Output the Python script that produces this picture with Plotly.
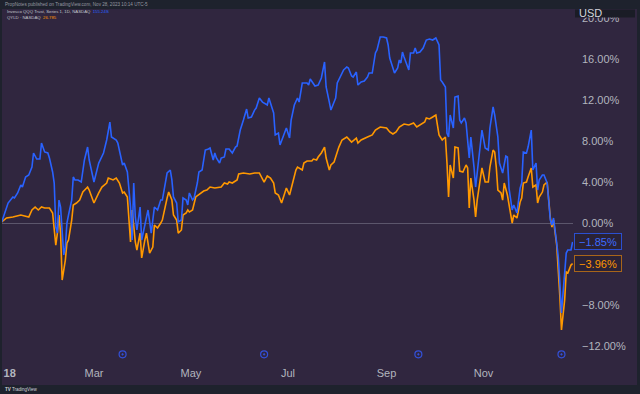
import plotly.graph_objects as go

# ---------------- data ----------------
qqq_dates = [
    "2018-01-02", "2018-01-04", "2018-01-06", "2018-01-09", "2018-01-10", "2018-01-12", "2018-01-14",
    "2018-01-15", "2018-01-17", "2018-01-19", "2018-01-21", "2018-01-22", "2018-01-24", "2018-01-26",
    "2018-01-27", "2018-01-29", "2018-01-31", "2018-02-01", "2018-02-03", "2018-02-04", "2018-02-05",
    "2018-02-06", "2018-02-07", "2018-02-08", "2018-02-09", "2018-02-10", "2018-02-11", "2018-02-12",
    "2018-02-13", "2018-02-15", "2018-02-16", "2018-02-17", "2018-02-19", "2018-02-21", "2018-02-23",
    "2018-02-25", "2018-02-26", "2018-03-01", "2018-03-04", "2018-03-07", "2018-03-09", "2018-03-11",
    "2018-03-12", "2018-03-15", "2018-03-16", "2018-03-19", "2018-03-20", "2018-03-22", "2018-03-24",
    "2018-03-25", "2018-03-26", "2018-03-27", "2018-03-28", "2018-03-30", "2018-03-31", "2018-04-02",
    "2018-04-04", "2018-04-06", "2018-04-08", "2018-04-10", "2018-04-12", "2018-04-13", "2018-04-16",
    "2018-04-18", "2018-04-19", "2018-04-20", "2018-04-22", "2018-04-23", "2018-04-25", "2018-04-26",
    "2018-04-28", "2018-04-29", "2018-04-30", "2018-05-02", "2018-05-03", "2018-05-05", "2018-05-06",
    "2018-05-08", "2018-05-10", "2018-05-12", "2018-05-13", "2018-05-15", "2018-05-16", "2018-05-17",
    "2018-05-19", "2018-05-20", "2018-05-22", "2018-05-23", "2018-05-25", "2018-05-27", "2018-05-29",
    "2018-05-30", "2018-06-01", "2018-06-03", "2018-06-05", "2018-06-06", "2018-06-08", "2018-06-10",
    "2018-06-11", "2018-06-13", "2018-06-15", "2018-06-18", "2018-06-19", "2018-06-21", "2018-06-22",
    "2018-06-23", "2018-06-25", "2018-06-26", "2018-06-28", "2018-06-30", "2018-07-02", "2018-07-03",
    "2018-07-05", "2018-07-07", "2018-07-08", "2018-07-10", "2018-07-13", "2018-07-14", "2018-07-15",
    "2018-07-17", "2018-07-18", "2018-07-20", "2018-07-22", "2018-07-24", "2018-07-25", "2018-07-27",
    "2018-07-28", "2018-07-30", "2018-07-31", "2018-08-01", "2018-08-03", "2018-08-05", "2018-08-07",
    "2018-08-08", "2018-08-10", "2018-08-11", "2018-08-13", "2018-08-14", "2018-08-16", "2018-08-18",
    "2018-08-20", "2018-08-21", "2018-08-23", "2018-08-25", "2018-08-26", "2018-08-28", "2018-08-30",
    "2018-09-01", "2018-09-02", "2018-09-03", "2018-09-05", "2018-09-06", "2018-09-08", "2018-09-09",
    "2018-09-10", "2018-09-11", "2018-09-12", "2018-09-14", "2018-09-15", "2018-09-16", "2018-09-18",
    "2018-09-19", "2018-09-20", "2018-09-22", "2018-09-24", "2018-09-26", "2018-09-28", "2018-09-30",
    "2018-10-02", "2018-10-04", "2018-10-05", "2018-10-06", "2018-10-08", "2018-10-09", "2018-10-10",
    "2018-10-11", "2018-10-13", "2018-10-14", "2018-10-16", "2018-10-17", "2018-10-18", "2018-10-20",
    "2018-10-21", "2018-10-23", "2018-10-24", "2018-10-26", "2018-10-27", "2018-10-28", "2018-10-30",
    "2018-10-31", "2018-11-02", "2018-11-04", "2018-11-05", "2018-11-07", "2018-11-08", "2018-11-10",
    "2018-11-11", "2018-11-12", "2018-11-13", "2018-11-15", "2018-11-16", "2018-11-17", "2018-11-19",
    "2018-11-20", "2018-11-22", "2018-11-24", "2018-11-25", "2018-11-26", "2018-11-28", "2018-11-29",
    "2018-12-01", "2018-12-02", "2018-12-04", "2018-12-05", "2018-12-06", "2018-12-08", "2018-12-09",
    "2018-12-11", "2018-12-13", "2018-12-14", "2018-12-15", "2018-12-17", "2018-12-18", "2018-12-19",
    "2018-12-20", "2018-12-21", "2018-12-23", "2018-12-24", "2018-12-26", "2018-12-27",
]
qqq_pct = [
    0.10, 0.98, 1.95, 2.54, 2.44, 2.93, 3.71,
    3.51, 4.49, 4.68, 5.46, 6.83, 6.24, 6.24,
    7.80, 6.93, 6.83, 6.34, 4.98, 3.90, -0.39,
    -0.98, 2.24, 1.56, -0.88, -3.12, -2.34, 0.00,
    0.78, 2.24, 4.49, 4.20, 4.20, 4.00, 6.15,
    7.41, 6.15, 4.00, 5.85, 6.83, 8.10, 9.85,
    8.39, 8.10, 7.80, 5.66, 5.85, 4.98, 1.56,
    -1.66, 3.90, 0.59, -0.68, 1.56, -1.66, 0.00,
    1.27, -0.98, 1.56, 1.27, 2.24, 2.24, 4.88,
    5.17, 4.20, 2.54, 1.95, 0.10, 0.29, 2.44,
    2.24, 1.76, 2.93, 2.24, 2.44, 3.90, 4.98,
    5.17, 7.12, 7.22, 7.32, 6.15, 6.83, 6.34,
    5.85, 6.34, 6.44, 7.22, 7.22, 6.83, 7.41,
    7.51, 9.07, 10.05, 11.12, 10.24, 10.34, 11.02,
    11.22, 12.20, 11.80, 11.51, 12.20, 11.22, 10.73,
    8.59, 8.78, 7.61, 8.39, 9.27, 8.29, 10.05,
    11.51, 12.20, 11.80, 13.66, 13.66, 13.46, 14.05,
    13.66, 13.37, 13.46, 14.15, 15.71, 13.27, 11.80,
    11.02, 11.80, 12.20, 13.66, 14.24, 14.93, 15.22,
    15.12, 14.34, 14.24, 14.73, 13.46, 13.76, 13.85,
    14.24, 14.63, 14.63, 16.59, 16.88, 18.15, 18.15,
    18.05, 17.37, 16.10, 15.12, 14.63, 15.12, 15.90,
    15.61, 16.68, 16.20, 15.41, 14.93, 16.59, 16.59,
    17.07, 16.59, 16.68, 17.07, 17.85, 17.95, 17.85,
    18.05, 17.37, 13.95, 13.76, 13.27, 8.78, 8.39,
    10.54, 9.27, 12.29, 12.39, 10.05, 9.76, 10.24,
    9.76, 6.34, 8.39, 5.46, 3.51, 4.88, 7.41,
    9.07, 7.32, 7.12, 9.27, 11.32, 10.54, 8.39,
    5.85, 5.46, 4.88, 6.54, 6.44, 3.41, 1.27,
    1.76, 0.98, 3.41, 3.90, 6.93, 6.83, 7.41,
    9.07, 5.17, 5.85, 3.22, 4.20, 4.68, 4.68,
    3.90, 0.29, -0.20, 0.49, -1.95, -3.32, -5.85,
    -8.78, -6.83, -2.93, -2.63, -2.63, -1.85,
]

qyld_dates = [
    "2018-01-02", "2018-01-05", "2018-01-09", "2018-01-14", "2018-01-19", "2018-01-21", "2018-01-23",
    "2018-01-25", "2018-01-27", "2018-01-29", "2018-02-01", "2018-02-03", "2018-02-05", "2018-02-06",
    "2018-02-07", "2018-02-08", "2018-02-09", "2018-02-11", "2018-02-12", "2018-02-13", "2018-02-15",
    "2018-02-16", "2018-02-18", "2018-02-20", "2018-02-22", "2018-02-25", "2018-02-26", "2018-03-01",
    "2018-03-04", "2018-03-06", "2018-03-09", "2018-03-10", "2018-03-13", "2018-03-15", "2018-03-17",
    "2018-03-19", "2018-03-20", "2018-03-22", "2018-03-24", "2018-03-25", "2018-03-27", "2018-03-28",
    "2018-03-30", "2018-03-31", "2018-04-02", "2018-04-03", "2018-04-05", "2018-04-07", "2018-04-08",
    "2018-04-10", "2018-04-12", "2018-04-13", "2018-04-16", "2018-04-17", "2018-04-19", "2018-04-20",
    "2018-04-22", "2018-04-23", "2018-04-25", "2018-04-26", "2018-04-28", "2018-04-29", "2018-04-30",
    "2018-05-02", "2018-05-04", "2018-05-07", "2018-05-09", "2018-05-11", "2018-05-13", "2018-05-16",
    "2018-05-20", "2018-05-22", "2018-05-24", "2018-05-25", "2018-05-27", "2018-05-30", "2018-05-31",
    "2018-06-03", "2018-06-07", "2018-06-10", "2018-06-13", "2018-06-16", "2018-06-18", "2018-06-20",
    "2018-06-22", "2018-06-23", "2018-06-25", "2018-06-27", "2018-06-28", "2018-06-30", "2018-07-02",
    "2018-07-04", "2018-07-06", "2018-07-07", "2018-07-10", "2018-07-11", "2018-07-13", "2018-07-16",
    "2018-07-17", "2018-07-19", "2018-07-20", "2018-07-22", "2018-07-24", "2018-07-25", "2018-07-27",
    "2018-07-28", "2018-07-30", "2018-08-01", "2018-08-02", "2018-08-04", "2018-08-07", "2018-08-10",
    "2018-08-13", "2018-08-14", "2018-08-16", "2018-08-20", "2018-08-23", "2018-08-25", "2018-08-28",
    "2018-09-01", "2018-09-03", "2018-09-05", "2018-09-07", "2018-09-09", "2018-09-12", "2018-09-15",
    "2018-09-18", "2018-09-20", "2018-09-22", "2018-09-25", "2018-09-26", "2018-09-28", "2018-09-30",
    "2018-10-02", "2018-10-03", "2018-10-04", "2018-10-06", "2018-10-08", "2018-10-09", "2018-10-10",
    "2018-10-11", "2018-10-13", "2018-10-14", "2018-10-16", "2018-10-17", "2018-10-19", "2018-10-21",
    "2018-10-22", "2018-10-23", "2018-10-24", "2018-10-26", "2018-10-27", "2018-10-28", "2018-10-30",
    "2018-10-31", "2018-11-02", "2018-11-04", "2018-11-05", "2018-11-07", "2018-11-08", "2018-11-09",
    "2018-11-10", "2018-11-12", "2018-11-13", "2018-11-14", "2018-11-16", "2018-11-18", "2018-11-19",
    "2018-11-20", "2018-11-22", "2018-11-24", "2018-11-25", "2018-11-26", "2018-11-28", "2018-11-29",
    "2018-12-01", "2018-12-02", "2018-12-04", "2018-12-05", "2018-12-06", "2018-12-08", "2018-12-09",
    "2018-12-11", "2018-12-13", "2018-12-14", "2018-12-15", "2018-12-17", "2018-12-18", "2018-12-19",
    "2018-12-20", "2018-12-22", "2018-12-23", "2018-12-24", "2018-12-26", "2018-12-27",
]
qyld_pct = [
    0.10, 0.49, 0.59, 0.78, 0.59, 1.27, 1.56,
    1.27, 1.56, 1.46, 1.46, 0.98, -2.15, -0.98,
    0.78, -0.98, -5.56, -3.61, -1.95, -1.66, 0.29,
    1.76, 1.95, 2.24, 3.02, 3.51, 3.22, 1.95,
    2.93, 3.51, 3.90, 4.39, 4.20, 4.39, 3.90,
    2.93, 3.02, 2.54, -1.85, 1.27, -1.85, -2.63,
    -0.98, -3.41, -1.66, -0.98, -2.93, -2.34, -0.20,
    -0.49, 0.00, 0.29, 2.44, 3.02, 2.24, 0.78,
    0.29, -0.98, -0.68, 0.78, 0.98, 1.27, 1.07,
    1.27, 2.54, 2.93, 3.12, 3.22, 3.51, 3.41,
    3.51, 3.90, 3.80, 4.00, 3.90, 4.20, 4.78,
    4.88, 4.78, 4.88, 4.88, 4.00, 4.59, 4.39,
    3.90, 2.93, 2.73, 1.95, 2.44, 3.41, 2.73,
    3.90, 5.17, 5.46, 5.17, 5.85, 6.05, 6.05,
    6.24, 6.15, 6.44, 6.83, 7.41, 6.34, 5.17,
    5.66, 5.95, 6.93, 7.41, 8.10, 8.39, 7.90,
    8.29, 7.80, 8.10, 8.39, 8.59, 9.07, 9.37,
    9.27, 8.88, 8.68, 8.88, 9.37, 9.66, 9.56,
    9.76, 9.37, 9.56, 9.85, 10.24, 10.15, 10.34,
    10.54, 9.56, 8.59, 8.10, 8.39, 5.85, 2.54,
    5.66, 4.39, 7.41, 7.32, 5.07, 4.98, 5.66,
    5.37, 1.46, 4.39, 2.24, 0.59, 2.24, 4.20,
    5.37, 4.00, 4.00, 5.46, 7.12, 6.93, 5.46,
    3.22, 2.93, 2.24, 3.90, 2.73, 0.98, 0.00,
    0.78, 0.49, 2.05, 2.44, 3.90, 4.00, 4.49,
    5.37, 3.51, 3.71, 1.95, 2.54, 3.02, 3.71,
    4.00, 0.49, -0.39, 0.29, -2.15, -4.29, -7.22,
    -10.44, -7.51, -4.78, -4.88, -4.10, -3.96,
]

dividend_dates = ["2018-03-19", "2018-06-16", "2018-09-21", "2018-12-20"]

# the -4.00% label is hidden behind the last-value boxes in the reference
y_tick_vals = [-12, -8, 0, 4, 8, 12, 16, 20]
y_tick_text = ["\u221212.00%", "\u22128.00%", "0.00%", "4.00%",
               "8.00%", "12.00%", "16.00%", "20.00%"]
x_tick_vals = ["2018-01-07", "2018-03-01", "2018-05-01", "2018-07-01", "2018-09-01", "2018-11-01"]
x_tick_text = ["<b>18</b>", "Mar", "May", "Jul", "Sep", "Nov"]

qqq_last_label = "\u22121.85%"
qyld_last_label = "\u22123.96%"

# ---------------- styling ----------------
W, H = 640, 394
ML, MR, MT, MB = 2, 67, 10, 29
PW, PH = W - ML - MR, H - MT - MB

BLUE = "#2962ff"
ORANGE = "#ff9800"
PLOT_BG = "#30263f"
FRAME_BG = "#1e222d"
TEXT = "#b2b5be"
FONT = "Liberation Sans, Arial, sans-serif"

x_range = ["2018-01-02 04:00", "2018-12-27 06:00"]
y_range = [-13.85, 20.78]


def px_x(p):
    return (p - ML) / PW


def px_y(p):
    return (H - MB - p) / PH


fig = go.Figure()

fig.add_trace(go.Scatter(x=qyld_dates, y=qyld_pct, mode="lines",
                         line=dict(color=ORANGE, width=1.6), hoverinfo="skip"))
fig.add_trace(go.Scatter(x=qqq_dates, y=qqq_pct, mode="lines",
                         line=dict(color=BLUE, width=1.6), hoverinfo="skip"))

div_y = y_range[0] + 0.03 * (y_range[1] - y_range[0])
fig.add_trace(go.Scatter(x=dividend_dates, y=[div_y] * len(dividend_dates), mode="markers",
                         marker=dict(symbol="circle-open-dot", size=7, color="#3350d8",
                                     line=dict(width=1.2)),
                         hoverinfo="skip", cliponaxis=False))

shapes = [
    # purple chart panel (plot + axes)
    dict(type="rect", xref="paper", yref="paper", layer="below",
         x0=px_x(2), x1=px_x(637), y0=px_y(385), y1=px_y(9),
         fillcolor=PLOT_BG, line=dict(width=0)),
    # USD box at top of price scale
    dict(type="rect", xref="paper", yref="paper", layer="above",
         x0=px_x(575), x1=px_x(635), y0=px_y(17.5), y1=px_y(9.5),
         fillcolor="#1a1c26", line=dict(width=0)),
]

annotations = [
    dict(text="PropNotes published on TradingView.com, Nov 28, 2023 10:14 UTC-5",
         xref="paper", yref="paper", x=px_x(3), y=px_y(4.5), xanchor="left", yanchor="middle",
         showarrow=False, font=dict(size=4.6, color="#9598a1", family=FONT)),
    dict(text="Invesco QQQ Trust, Series 1, 1D, NASDAQ  <span style='color:%s'>155.24S</span>" % BLUE,
         xref="paper", yref="paper", x=px_x(5), y=px_y(12), xanchor="left", yanchor="middle",
         showarrow=False, font=dict(size=4.3, color="#c3c6ce", family=FONT)),
    dict(text="QYLD \u00b7 NASDAQ  <span style='color:%s'>26.785</span>" % ORANGE,
         xref="paper", yref="paper", x=px_x(5), y=px_y(17.5), xanchor="left", yanchor="middle",
         showarrow=False, font=dict(size=4.3, color="#c3c6ce", family=FONT)),
    dict(text="USD", xref="paper", yref="paper", x=px_x(577), y=px_y(13.5),
         xanchor="left", yanchor="middle", showarrow=False,
         font=dict(size=11, color="#d1d4dc", family=FONT)),
    dict(text=qqq_last_label, xref="paper", yref="y", x=px_x(573.5), y=qqq_pct[-1],
         xanchor="left", yanchor="middle", showarrow=False, width=44, height=13,
         borderpad=1, bordercolor="#2b4fd0", borderwidth=1, bgcolor="#2a2236",
         font=dict(size=11, color="#3d6bff", family=FONT)),
    dict(text=qyld_last_label, xref="paper", yref="y", x=px_x(573.5), y=qyld_pct[-1],
         xanchor="left", yanchor="middle", showarrow=False, width=44, height=13,
         borderpad=1, bordercolor="#a8651a", borderwidth=1, bgcolor="#2a2236",
         font=dict(size=11, color=ORANGE, family=FONT)),
    dict(text="<b>TV</b> TradingView", xref="paper", yref="paper", x=px_x(3), y=px_y(389.5),
         xanchor="left", yanchor="middle", showarrow=False,
         font=dict(size=4.5, color="#d1d4dc", family=FONT)),
]

fig.update_layout(
    width=W, height=H,
    margin=dict(l=ML, r=MR, t=MT, b=MB, pad=0),
    paper_bgcolor=FRAME_BG,
    plot_bgcolor=PLOT_BG,
    showlegend=False,
    font=dict(family=FONT, size=11, color=TEXT),
    shapes=shapes,
    annotations=annotations,
    xaxis=dict(type="date", range=x_range, tickvals=x_tick_vals, ticktext=x_tick_text,
               showgrid=False, zeroline=False, showline=False, ticks="", ticklen=0,
               tickfont=dict(size=11, color=TEXT, family=FONT), fixedrange=True),
    yaxis=dict(range=y_range, side="right", tickvals=y_tick_vals, ticktext=y_tick_text,
               showgrid=False, zeroline=True, zerolinecolor="rgba(130,125,145,0.55)",
               zerolinewidth=1, showline=False, ticks="", ticklen=0, ticklabelstandoff=8,
               tickfont=dict(size=11, color=TEXT, family=FONT), fixedrange=True),
)

fig.write_html(
    "out.html",
    config={"displayModeBar": False},
    post_script="document.body.style.margin='0';document.body.style.padding='0';"
                "document.body.style.overflow='hidden';"
                "document.body.style.background='%s';" % FRAME_BG,
)
